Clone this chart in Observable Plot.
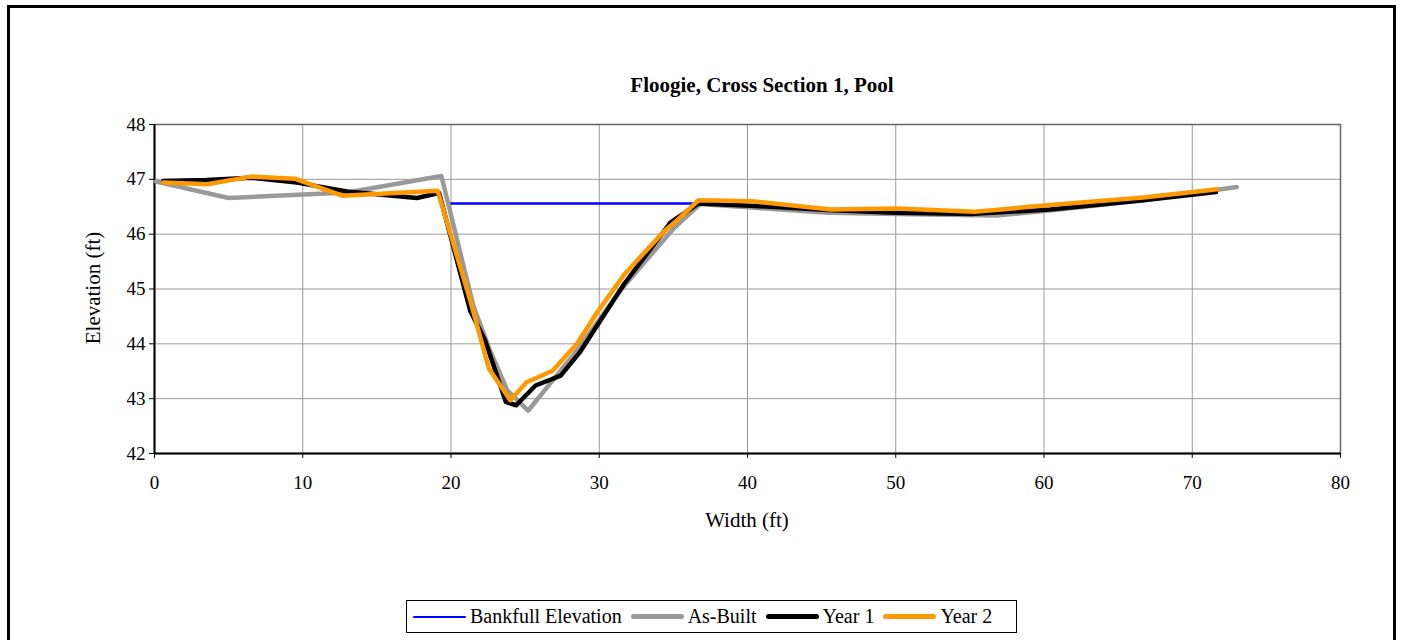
<!DOCTYPE html>
<html>
<head>
<meta charset="utf-8">
<script src="https://cdn.jsdelivr.net/npm/d3@7"></script>
<script src="https://cdn.jsdelivr.net/npm/@observablehq/plot@0.6"></script>
<style>
  html, body { margin: 0; padding: 0; background: #fff; }
  body { width: 1402px; height: 640px; overflow: hidden; font-family: "Liberation Serif", "Times New Roman", serif; }
  #wrap { position: relative; width: 1402px; height: 640px; }
  #border { position: absolute; left: 7px; top: 5px; width: 1389px; height: 700px; border: 3px solid #000; box-sizing: border-box; pointer-events: none; }
  .lbl { position: absolute; white-space: nowrap; line-height: 1; color: #000; }
  #title { font-weight: bold; font-size: 21px; left: 762px; top: 75px; transform: translateX(-50%); }
  #xlabel { font-size: 21px; left: 747px; top: 510px; transform: translateX(-50%); }
  #ylabel { font-size: 21px; left: 93px; top: 288px; transform: translate(-50%, -50%) rotate(-90deg); }
  #legend { position: absolute; left: 406px; top: 600px; width: 611px; height: 33px; border: 1px solid #000; box-sizing: border-box;
            display: flex; align-items: center; padding-left: 6px; font-size: 20px; background: #fff; }
  .item { display: flex; align-items: center; margin-right: 9px; }
  .sw { width: 53px; margin-right: 4px; border-radius: 3px; }
  #chart svg { position: absolute; left: 0; top: 0; }
</style>
</head>
<body>
<div id="wrap">
  <div id="chart"></div>
  <div id="title" class="lbl"></div>
  <div id="xlabel" class="lbl"></div>
  <div id="ylabel" class="lbl"></div>
  <div id="legend"></div>
  <div id="border"></div>
</div>
<script>
// ---- data ----
const titleText = "Floogie, Cross Section 1, Pool";
const xLabel = "Width (ft)";
const yLabel = "Elevation (ft)";
const xTicks = [0, 10, 20, 30, 40, 50, 60, 70, 80];
const yTicks = [42, 43, 44, 45, 46, 47, 48];

const seriesNames = ["Bankfull Elevation", "As-Built", "Year 1", "Year 2"];
const seriesColors = ["#0000FF", "#999999", "#000000", "#FF9900"];

const bankfullX = [20.0, 36.5];
const bankfullY = [46.56, 46.56];

const asBuiltX = [0.1, 5.0, 13.0, 19.35, 20.5, 21.5, 22.6, 23.8, 25.2, 28.5, 31.5, 35.0, 36.8, 40.5, 45.5, 50.0, 56.8, 61.0, 66.7, 73.0];
const asBuiltY = [46.96, 46.66, 46.76, 47.06, 45.8, 44.7, 43.9, 43.15, 42.78, 43.88, 45.0, 46.1, 46.55, 46.48, 46.39, 46.37, 46.34, 46.45, 46.62, 46.86];

const year1X = [0.6, 3.5, 6.5, 9.6, 13.0, 17.7, 19.2, 21.3, 22.3, 23.7, 24.4, 25.7, 27.4, 28.7, 31.7, 34.8, 36.7, 40.2, 45.4, 50.0, 55.3, 60.4, 66.7, 71.6];
const year1Y = [46.97, 46.99, 47.03, 46.94, 46.78, 46.66, 46.75, 44.6, 44.06, 42.94, 42.88, 43.24, 43.42, 43.85, 45.1, 46.21, 46.56, 46.52, 46.44, 46.39, 46.37, 46.45, 46.62, 46.77];

const year2X = [0.6, 3.55, 6.5, 9.5, 12.7, 19.1, 21.3, 22.55, 24.0, 25.1, 26.85, 28.5, 29.8, 31.7, 34.4, 35.2, 36.7, 40.3, 45.6, 50.1, 55.3, 60.4, 66.7, 71.7];
const year2Y = [46.94, 46.91, 47.05, 47.01, 46.70, 46.79, 44.79, 43.55, 42.97, 43.3, 43.51, 44.0, 44.55, 45.27, 46.06, 46.24, 46.62, 46.6, 46.45, 46.47, 46.41, 46.53, 46.67, 46.82];

// ---- build ----
const toRows = (xs, ys) => xs.map((x, i) => ({x, y: ys[i]}));
const series = [
  {rows: toRows(bankfullX, bankfullY), width: 2.5},
  {rows: toRows(asBuiltX, asBuiltY), width: 4.5},
  {rows: toRows(year1X, year1Y), width: 4.5},
  {rows: toRows(year2X, year2Y), width: 4.5}
];

const chart = Plot.plot({
  width: 1402,
  height: 640,
  marginLeft: 154,
  marginRight: 62,
  marginTop: 124,
  marginBottom: 187,
  style: {fontFamily: "'Liberation Serif', 'Times New Roman', serif", fontSize: "19px", color: "#000", background: "transparent"},
  x: {domain: [0, 80]},
  y: {domain: [42, 48]},
  marks: [
    Plot.gridX(xTicks, {stroke: "#999", strokeOpacity: 1, strokeWidth: 1}),
    Plot.gridY(yTicks, {stroke: "#999", strokeOpacity: 1, strokeWidth: 1}),
    Plot.frame({stroke: "#666", strokeWidth: 1.5}),
    Plot.axisX(xTicks, {tickSize: 5, tickPadding: 17, label: null, fontSize: 19, tickFormat: d => String(d)}),
    Plot.axisY(yTicks, {tickSize: 5, tickPadding: 4, label: null, fontSize: 19, tickFormat: d => String(d)}),
    Plot.ruleX([0], {stroke: "#000", strokeWidth: 2}),
    Plot.ruleY([42], {stroke: "#000", strokeWidth: 2}),
    ...series.map((s, i) => Plot.line(s.rows, {x: "x", y: "y", stroke: seriesColors[i], strokeWidth: s.width, strokeLinejoin: "round", strokeLinecap: "round"}))
  ]
});
document.getElementById("chart").appendChild(chart);

document.getElementById("title").textContent = titleText;
document.getElementById("xlabel").textContent = xLabel;
document.getElementById("ylabel").textContent = yLabel;

const legend = document.getElementById("legend");
seriesNames.forEach((name, i) => {
  const item = document.createElement("div");
  item.className = "item";
  const sw = document.createElement("div");
  sw.className = "sw";
  sw.style.height = (i === 0 ? 2 : 5) + "px";
  sw.style.background = seriesColors[i];
  const t = document.createElement("span");
  t.textContent = name;
  item.appendChild(sw);
  item.appendChild(t);
  legend.appendChild(item);
});
</script>
</body>
</html>
